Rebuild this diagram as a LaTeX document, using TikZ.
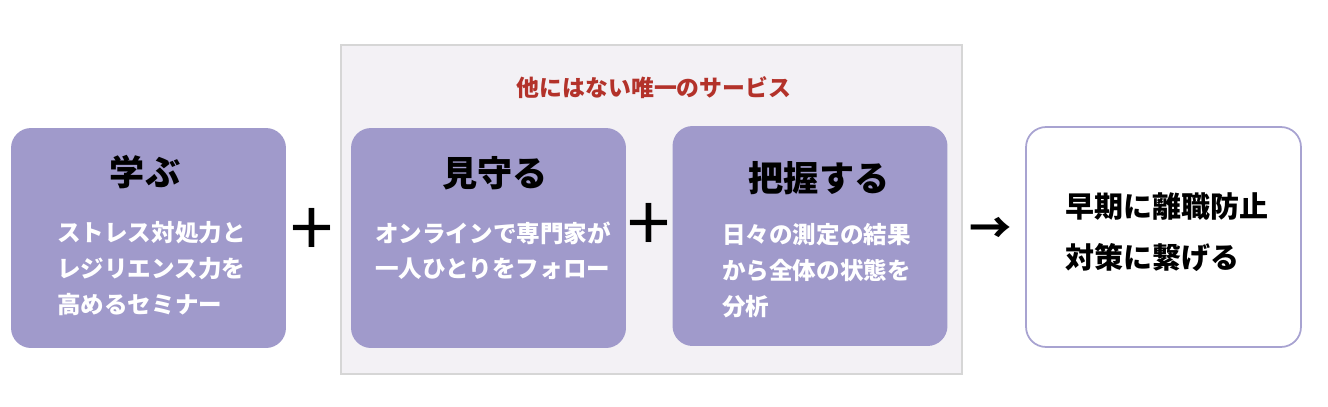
\documentclass[tikz,border=0pt]{standalone}
\usepackage{fontspec}
\setmainfont{Noto Sans CJK JP}
\definecolor{cardpurple}{HTML}{A09ACB}
\definecolor{panelgray}{HTML}{F3F1F5}
\definecolor{framegray}{HTML}{D6D6D6}
\definecolor{titlered}{HTML}{B3322A}
\definecolor{edgepurple}{HTML}{A8A3D1}
\begin{document}
\begin{tikzpicture}[x=0.02cm,y=-0.02cm,
  card/.style={fill=cardpurple,rounded corners=0.4cm,minimum width=5.5cm,minimum height=4.4cm,inner sep=0},
  heading/.style={font=\fontsize{20}{24}\selectfont\bfseries},
  body/.style={text=white,font=\fontsize{13.4}{20.4}\selectfont\bfseries,align=left,anchor=north west,inner sep=0},
  sign/.style={font=\fontsize{44}{44}\selectfont}]
  \useasboundingbox (0,0) rectangle (1328,406);
  % 背景のパネル
  \node[draw=framegray,fill=panelgray,line width=1pt,minimum width=12.42cm,minimum height=6.58cm,inner sep=0] (panel) at (651.5,209.5) {};
  \node[text=titlered,font=\fontsize{13}{16}\selectfont\bfseries] (unique) at (654,88) {他にはない唯一のサービス};

  % カード
  \node[card] (learn) at (148.5,238) {};
  \node[card] (watch) at (488.5,238) {};
  \node[card] (grasp) at (810,236) {};
  \node[card,fill=white,draw=edgepurple,line width=1pt] (result) at (1163.5,237) {};

  \node[heading] (learnT) at (145,172) {学ぶ};
  \node[body] (learnB) at (57,221) {ストレス対処力と\\レジリエンス力を\\高めるセミナー};

  \node[heading] (watchT) at (495,173) {見守る};
  \node[body] (watchB) at (375,221) {オンラインで専門家が\\一人ひとりをフォロー};

  \node[heading] (graspT) at (819,178) {把握する};
  \node[body] (graspB) at (722,223) {日々の測定の結果\\から全体の状態を\\分析};

  \node[body,text=black,font=\fontsize{16.5}{29}\selectfont\bfseries] (resultB) at (1065,192) {早期に離職防止\\対策に繋げる};

  % 記号
  \node[sign] (plusA) at (312,232) {+};
  \node[sign] (plusB) at (649,227) {+};
  \node[font=\fontsize{24}{24}\selectfont\bfseries] (arrow) at (991,230) {→};
\end{tikzpicture}
\end{document}
